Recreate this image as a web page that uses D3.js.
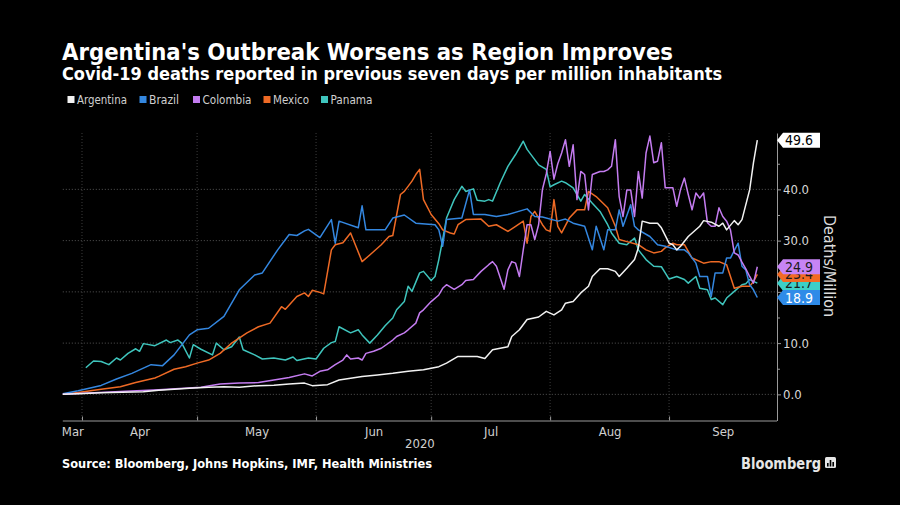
<!DOCTYPE html>
<html><head><meta charset="utf-8">
<script src="https://cdn.jsdelivr.net/npm/d3@7"></script>
<style>
html,body{margin:0;padding:0;background:#000;}
svg{display:block;}
</style></head>
<body><svg id="c" width="900" height="505"></svg>
<script>
// ---------------- DATA ----------------
const countries = ["Argentina", "Brazil", "Colombia", "Mexico", "Panama"];
const colors = ["#f2f2f2", "#3487e0", "#c47cf0", "#ee6a25", "#3fc5bd"];
const tagColors = ["#ffffff", "#2f8be8", "#c784f5", "#f26a24", "#3ccfc8"];
const tagText = ["#000000", "#ffffff", "#1a1a1a", "#1a1a1a", "#1a1a1a"];

const argentina = [["2020-03-27",0],["2020-03-31",0.1],["2020-04-06",0.3],["2020-04-17",0.5],["2020-04-21",0.8],["2020-04-29",1.2],["2020-05-04",1.4],["2020-05-08",1.5],["2020-05-12",1.4],["2020-05-17",1.7],["2020-05-21",1.8],["2020-05-25",2.0],["2020-05-29",2.2],["2020-05-31",1.7],["2020-06-04",1.9],["2020-06-07",2.8],["2020-06-13",3.5],["2020-06-17",3.8],["2020-06-21",4.1],["2020-06-25",4.5],["2020-06-29",4.8],["2020-07-01",5.1],["2020-07-03",5.4],["2020-07-05",6.1],["2020-07-08",7.4],["2020-07-10",7.4],["2020-07-13",7.4],["2020-07-15",7.0],["2020-07-17",8.7],["2020-07-19",9.0],["2020-07-21",9.3],["2020-07-22",11.3],["2020-07-24",12.6],["2020-07-26",14.6],["2020-07-29",15.1],["2020-07-31",16.2],["2020-08-02",15.5],["2020-08-04",16.5],["2020-08-05",17.8],["2020-08-07",18.1],["2020-08-09",19.8],["2020-08-11",21.1],["2020-08-12",23.0],["2020-08-14",24.5],["2020-08-16",24.5],["2020-08-18",24.0],["2020-08-19",23.0],["2020-08-21",24.6],["2020-08-23",26.3],["2020-08-24",28.6],["2020-08-25",33.8],["2020-08-27",33.4],["2020-08-29",33.4],["2020-08-30",32.5],["2020-09-01",29.5],["2020-09-02",29.2],["2020-09-03",28.2],["2020-09-04",28.9],["2020-09-06",30.8],["2020-09-09",32.8],["2020-09-10",33.9],["2020-09-12",33.6],["2020-09-14",32.8],["2020-09-15",33.4],["2020-09-16",32.1],["2020-09-18",33.9],["2020-09-19",33.1],["2020-09-20",34.1],["2020-09-22",39.9],["2020-09-23",45.2],["2020-09-24",49.6]];

const brazil = [["2020-03-27",0.1],["2020-03-31",0.7],["2020-04-06",1.75],["2020-04-10",3.0],["2020-04-14",4.1],["2020-04-19",5.8],["2020-04-22",5.6],["2020-04-25",7.7],["2020-04-29",11.6],["2020-05-01",12.6],["2020-05-04",12.9],["2020-05-08",15.2],["2020-05-12",20.4],["2020-05-16",23.3],["2020-05-18",23.7],["2020-05-22",28.2],["2020-05-25",31.2],["2020-05-27",31.0],["2020-05-29",31.9],["2020-05-30",32.2],["2020-06-02",30.6],["2020-06-05",34.1],["2020-06-06",29.5],["2020-06-07",33.8],["2020-06-12",32.5],["2020-06-13",36.8],["2020-06-14",32.1],["2020-06-19",32.1],["2020-06-21",34.4],["2020-06-24",35.0],["2020-06-27",33.4],["2020-07-02",33.1],["2020-07-03",32.1],["2020-07-04",28.9],["2020-07-05",34.1],["2020-07-09",34.4],["2020-07-11",39.9],["2020-07-12",35.1],["2020-07-15",35.1],["2020-07-18",34.7],["2020-07-21",35.1],["2020-07-26",36.2],["2020-07-28",34.7],["2020-07-30",34.6],["2020-08-03",33.8],["2020-08-05",34.2],["2020-08-07",33.4],["2020-08-10",32.8],["2020-08-12",28.2],["2020-08-13",32.8],["2020-08-15",28.2],["2020-08-16",32.1],["2020-08-18",32.1],["2020-08-19",36.0],["2020-08-20",32.8],["2020-08-22",37.0],["2020-08-23",32.8],["2020-08-24",32.1],["2020-08-27",30.8],["2020-08-29",29.2],["2020-08-31",28.9],["2020-09-03",28.2],["2020-09-05",28.2],["2020-09-06",27.6],["2020-09-08",25.6],["2020-09-09",23.0],["2020-09-11",23.0],["2020-09-12",19.1],["2020-09-13",23.7],["2020-09-15",23.7],["2020-09-16",26.6],["2020-09-17",26.6],["2020-09-19",29.5],["2020-09-20",25.0],["2020-09-21",24.3],["2020-09-22",21.4],["2020-09-23",20.4],["2020-09-24",18.9]];

const colombia = [["2020-03-27",0],["2020-04-11",0.55],["2020-04-21",0.9],["2020-05-02",1.4],["2020-05-07",2.0],["2020-05-12",2.2],["2020-05-17",2.3],["2020-05-21",2.8],["2020-05-25",3.3],["2020-05-29",4.0],["2020-05-31",3.6],["2020-06-02",4.5],["2020-06-04",4.8],["2020-06-06",5.8],["2020-06-08",6.7],["2020-06-09",7.7],["2020-06-10",6.9],["2020-06-12",7.1],["2020-06-13",6.7],["2020-06-14",8.0],["2020-06-16",8.4],["2020-06-18",9.0],["2020-06-21",10.6],["2020-06-22",11.3],["2020-06-24",12.0],["2020-06-25",12.6],["2020-06-27",13.9],["2020-06-28",15.9],["2020-06-29",16.5],["2020-07-01",18.1],["2020-07-03",19.4],["2020-07-04",20.7],["2020-07-05",21.4],["2020-07-07",20.5],["2020-07-09",21.4],["2020-07-10",22.2],["2020-07-12",22.4],["2020-07-14",24.0],["2020-07-16",25.3],["2020-07-17",25.9],["2020-07-18",25.0],["2020-07-20",20.5],["2020-07-21",24.3],["2020-07-22",25.9],["2020-07-23",25.6],["2020-07-24",23.0],["2020-07-25",28.2],["2020-07-26",33.1],["2020-07-27",33.1],["2020-07-28",30.2],["2020-07-29",33.1],["2020-07-30",40.0],["2020-07-31",43.0],["2020-08-01",47.4],["2020-08-02",42.0],["2020-08-03",45.0],["2020-08-04",47.1],["2020-08-05",49.7],["2020-08-06",44.5],["2020-08-07",48.7],["2020-08-08",38.0],["2020-08-09",43.5],["2020-08-10",42.9],["2020-08-11",36.0],["2020-08-12",42.9],["2020-08-13",43.2],["2020-08-14",43.5],["2020-08-15",43.5],["2020-08-16",43.8],["2020-08-17",44.5],["2020-08-18",49.7],["2020-08-19",38.6],["2020-08-20",34.7],["2020-08-21",39.9],["2020-08-22",39.9],["2020-08-23",34.7],["2020-08-24",43.5],["2020-08-25",38.3],["2020-08-26",47.1],["2020-08-27",50.4],["2020-08-28",45.2],["2020-08-29",45.5],["2020-08-30",49.1],["2020-08-31",40.3],["2020-09-01",40.3],["2020-09-02",40.3],["2020-09-03",36.7],["2020-09-04",40.0],["2020-09-05",42.2],["2020-09-06",39.0],["2020-09-07",36.0],["2020-09-08",39.3],["2020-09-09",38.3],["2020-09-10",39.3],["2020-09-11",33.5],["2020-09-12",32.8],["2020-09-13",32.8],["2020-09-14",36.4],["2020-09-15",34.7],["2020-09-16",33.8],["2020-09-17",32.1],["2020-09-18",27.6],["2020-09-19",27.2],["2020-09-20",25.8],["2020-09-21",24.5],["2020-09-22",23.0],["2020-09-23",21.7],["2020-09-24",24.9]];

const mexico = [["2020-03-27",0],["2020-03-31",0.35],["2020-04-06",1.0],["2020-04-11",1.5],["2020-04-15",2.3],["2020-04-20",3.2],["2020-04-21",3.5],["2020-04-25",4.9],["2020-04-28",5.4],["2020-05-01",6.1],["2020-05-04",6.7],["2020-05-07",8.0],["2020-05-10",10.0],["2020-05-14",12.0],["2020-05-17",13.2],["2020-05-20",13.9],["2020-05-23",17.1],["2020-05-24",16.6],["2020-05-27",19.1],["2020-05-29",19.8],["2020-05-30",19.1],["2020-05-31",20.3],["2020-06-02",19.9],["2020-06-03",19.6],["2020-06-05",28.2],["2020-06-06",29.2],["2020-06-08",29.6],["2020-06-10",31.5],["2020-06-13",25.9],["2020-06-15",27.2],["2020-06-18",29.2],["2020-06-20",30.8],["2020-06-21",31.0],["2020-06-23",39.0],["2020-06-24",39.6],["2020-06-26",41.6],["2020-06-27",42.9],["2020-06-28",43.9],["2020-06-29",38.0],["2020-07-01",35.1],["2020-07-03",33.3],["2020-07-04",32.1],["2020-07-06",31.5],["2020-07-07",31.3],["2020-07-08",33.1],["2020-07-10",34.1],["2020-07-14",34.2],["2020-07-16",32.8],["2020-07-18",33.1],["2020-07-21",31.8],["2020-07-23",32.8],["2020-07-25",33.8],["2020-07-26",29.5],["2020-07-27",34.7],["2020-07-28",35.7],["2020-07-30",33.1],["2020-07-31",32.1],["2020-08-01",31.8],["2020-08-02",38.0],["2020-08-03",32.8],["2020-08-04",31.5],["2020-08-06",34.4],["2020-08-08",36.0],["2020-08-10",36.0],["2020-08-11",39.6],["2020-08-13",38.6],["2020-08-16",36.4],["2020-08-18",32.8],["2020-08-19",30.2],["2020-08-21",29.8],["2020-08-24",29.2],["2020-08-26",28.2],["2020-08-28",27.6],["2020-08-30",27.9],["2020-08-31",28.6],["2020-09-02",29.5],["2020-09-03",29.2],["2020-09-05",29.2],["2020-09-07",26.6],["2020-09-10",25.6],["2020-09-12",25.9],["2020-09-14",25.9],["2020-09-16",25.3],["2020-09-18",20.7],["2020-09-20",21.1],["2020-09-22",21.1],["2020-09-23",22.0],["2020-09-24",23.4]];

const panama = [["2020-04-02",5.2],["2020-04-04",6.5],["2020-04-06",6.4],["2020-04-08",5.8],["2020-04-10",7.1],["2020-04-11",6.7],["2020-04-13",8.0],["2020-04-15",8.9],["2020-04-16",8.4],["2020-04-17",9.9],["2020-04-20",9.5],["2020-04-23",10.6],["2020-04-24",10.1],["2020-04-26",10.6],["2020-04-27",10.0],["2020-04-29",7.1],["2020-04-30",9.7],["2020-05-02",8.8],["2020-05-05",7.7],["2020-05-06",10.0],["2020-05-08",8.7],["2020-05-10",9.3],["2020-05-12",11.2],["2020-05-13",8.7],["2020-05-16",7.7],["2020-05-18",6.9],["2020-05-21",7.1],["2020-05-24",6.7],["2020-05-26",7.3],["2020-05-27",6.6],["2020-05-30",7.1],["2020-06-01",6.9],["2020-06-03",9.0],["2020-06-05",10.1],["2020-06-06",10.3],["2020-06-07",13.2],["2020-06-10",12.0],["2020-06-12",12.6],["2020-06-13",11.6],["2020-06-15",10.0],["2020-06-17",11.6],["2020-06-19",13.4],["2020-06-21",14.9],["2020-06-22",16.5],["2020-06-24",18.1],["2020-06-25",21.1],["2020-06-26",20.1],["2020-06-28",23.7],["2020-06-29",24.0],["2020-07-01",22.2],["2020-07-02",23.0],["2020-07-03",26.3],["2020-07-04",30.2],["2020-07-05",34.4],["2020-07-07",38.0],["2020-07-09",40.6],["2020-07-10",39.6],["2020-07-12",40.1],["2020-07-13",37.9],["2020-07-15",37.7],["2020-07-16",38.0],["2020-07-17",37.7],["2020-07-19",41.3],["2020-07-21",44.5],["2020-07-23",46.8],["2020-07-25",49.4],["2020-07-26",47.8],["2020-07-28",45.8],["2020-07-29",44.8],["2020-07-31",43.9],["2020-08-01",40.5],["2020-08-02",40.9],["2020-08-04",41.6],["2020-08-05",41.3],["2020-08-07",40.3],["2020-08-09",37.7],["2020-08-10",39.0],["2020-08-12",37.3],["2020-08-14",35.7],["2020-08-16",33.1],["2020-08-17",31.5],["2020-08-19",29.5],["2020-08-21",29.2],["2020-08-23",30.5],["2020-08-24",28.2],["2020-08-26",26.3],["2020-08-28",25.0],["2020-08-30",24.9],["2020-08-31",23.7],["2020-09-01",22.5],["2020-09-03",23.0],["2020-09-05",22.4],["2020-09-06",21.7],["2020-09-08",23.0],["2020-09-09",20.7],["2020-09-11",20.4],["2020-09-12",18.5],["2020-09-13",18.8],["2020-09-15",17.5],["2020-09-16",18.8],["2020-09-18",20.1],["2020-09-20",21.4],["2020-09-21",21.6],["2020-09-22",22.4],["2020-09-24",21.7]];

const seriesValues = [argentina, brazil, colombia, mexico, panama];
const yTickValues = [0, 10, 20, 30, 40];
const yMinorTicks = [5, 15, 25, 35, 45];
const monthStarts = ["2020-04-01","2020-05-01","2020-06-01","2020-07-01","2020-08-01","2020-09-01"];
const monthNames = ["Mar","Apr","May","Jun","Jul","Aug","Sep"];
const yearLabel = "2020";
const titleText = "Argentina's Outbreak Worsens as Region Improves";
const subtitleText = "Covid-19 deaths reported in previous seven days per million inhabitants";
const sourceText = "Source: Bloomberg, Johns Hopkins, IMF, Health Ministries";
const yAxisTitle = "Deaths/Million";

// ---------------- CHART ----------------
const W = 900, H = 505;
const svg = d3.select("#c");
svg.append("rect").attr("width", W).attr("height", H).attr("fill", "#000");
const parse = d3.timeParse("%Y-%m-%d");
const FONT = "'DejaVu Sans Condensed','DejaVu Sans',sans-serif";

const xLeft = 62.8, xRight = 776.5, yTop = 133, yBottom = 420.5;
const x = d3.scaleTime().domain([parse("2020-03-27"), parse("2020-09-29")]).range([xLeft, xRight]);
const y = d3.scaleLinear().domain([-5.1, 51]).range([yBottom, yTop]);

function fit(sel, w) {
  const L = sel.node().getComputedTextLength();
  if (Math.abs(L - w) > 1) sel.attr("textLength", w).attr("lengthAdjust", "spacingAndGlyphs");
  return sel;
}

// Titles
fit(svg.append("text").attr("x", 62).attr("y", 59.5).text(titleText)
  .attr("font-family", FONT).attr("font-weight", "bold").attr("font-size", 23.5).attr("fill", "#fff"), 611);
fit(svg.append("text").attr("x", 62).attr("y", 79.5).text(subtitleText)
  .attr("font-family", FONT).attr("font-weight", "bold").attr("font-size", 17).attr("fill", "#fff"), 660);

// Legend
const legendX = [67.5, 139.5, 193, 263.5, 321];
const legendW = [50, 31, 49, 36, 42];
countries.forEach((c, i) => {
  svg.append("rect").attr("x", legendX[i]).attr("y", 96).attr("width", 7).attr("height", 7).attr("fill", colors[i]);
  fit(svg.append("text").attr("x", legendX[i] + 9.5).attr("y", 104).text(c)
    .attr("font-family", FONT).attr("font-size", 12).attr("fill", "#cfcfcf"), legendW[i]);
});

// Gridlines
const grid = svg.append("g");
grid.selectAll("line.h").data(yTickValues).join("line")
  .attr("x1", xLeft).attr("x2", 777).attr("y1", d => y(d)).attr("y2", d => y(d))
  .attr("stroke", "#555").attr("stroke-width", 1).attr("stroke-dasharray", "1,2");
grid.selectAll("line.v").data(monthStarts.map(parse)).join("line")
  .attr("x1", d => x(d)).attr("x2", d => x(d)).attr("y1", yTop).attr("y2", yBottom)
  .attr("stroke", "#3c3c3c").attr("stroke-width", 1).attr("stroke-dasharray", "1,2");

// Lines
const line = d3.line().x(d => x(parse(d[0]))).y(d => y(d[1]));
const drawOrder = [4, 3, 1, 2, 0];
drawOrder.forEach(i => {
  svg.append("path").datum(seriesValues[i]).attr("d", line)
    .attr("fill", "none").attr("stroke", colors[i]).attr("stroke-width", 1.5)
    .attr("stroke-linejoin", "round");
});

// X axis
const xAxisG = svg.append("g").attr("transform", `translate(0,${yBottom})`)
  .call(d3.axisBottom(x).tickValues(monthStarts.map(parse)).tickFormat("").tickSize(4).tickSizeOuter(0));
xAxisG.select(".domain").attr("stroke", "#9a9a9a").attr("d", `M${xLeft},0.5H777`);
xAxisG.selectAll(".tick line").attr("stroke", "#9a9a9a").attr("y1", -4).attr("y2", 0);

const dom = x.domain();
const mids = monthNames.map((m, i) => {
  const s = new Date(2020, 2 + i, 1), e = new Date(2020, 3 + i, 1);
  const a = Math.max(s, dom[0]), b = Math.min(e, dom[1]);
  return new Date((a + b) / 2);
});
const labAxis = svg.append("g").attr("transform", `translate(0,${yBottom})`)
  .call(d3.axisBottom(x).tickValues(mids).tickFormat((d, i) => monthNames[i]).tickSize(0).tickPadding(6));
labAxis.select(".domain").remove();
labAxis.selectAll("text").attr("font-family", FONT).attr("font-size", 13).attr("fill", "#d0d0d0");

svg.append("text").attr("x", (xLeft + 777) / 2).attr("y", 448).attr("text-anchor", "middle").text(yearLabel)
  .attr("font-family", FONT).attr("font-size", 13).attr("fill", "#d0d0d0");

// Y axis (right)
const yAxisG = svg.append("g").attr("transform", "translate(777,0)")
  .call(d3.axisRight(y).tickValues(yTickValues).tickFormat(d3.format(".1f")).tickSize(4).tickPadding(2).tickSizeOuter(0));
yAxisG.select(".domain").attr("stroke", "#9a9a9a");
yAxisG.selectAll(".tick line").attr("stroke", "#9a9a9a");
yAxisG.selectAll("text").attr("font-family", FONT).attr("font-size", 13).attr("fill", "#d8d8d8");
const yMinorG = svg.append("g").attr("transform", "translate(777,0)")
  .call(d3.axisRight(y).tickValues(yMinorTicks).tickFormat("").tickSize(3).tickSizeOuter(0));
yMinorG.select(".domain").remove();
yMinorG.selectAll(".tick line").attr("stroke", "#9a9a9a");

svg.append("text").attr("transform", "translate(829,266) rotate(90)").attr("text-anchor", "middle")
  .attr("dominant-baseline", "central").text(yAxisTitle)
  .attr("font-family", FONT).attr("font-size", 16).attr("fill", "#dcdcdc");

// Value tags
const tagOrder = [4, 3, 2, 1, 0];
tagOrder.forEach(i => {
  const last = seriesValues[i][seriesValues[i].length - 1];
  const yc = y(last[1]);
  const g = svg.append("g");
  g.append("path").attr("d", `M777,${yc}L783,${yc - 7.5}H820V${yc + 7.5}H783Z`).attr("fill", tagColors[i]);
  g.append("text").attr("x", 785).attr("y", yc).attr("dominant-baseline", "central").text(last[1].toFixed(1))
    .attr("font-family", FONT).attr("font-size", 14).attr("fill", tagText[i]);
});

// Source & brand
fit(svg.append("text").attr("x", 62).attr("y", 468).text(sourceText)
  .attr("font-family", FONT).attr("font-weight", "bold").attr("font-size", 12.5).attr("fill", "#fff"), 370);
fit(svg.append("text").attr("x", 741).attr("y", 469).text("Bloomberg")
  .attr("font-family", FONT).attr("font-weight", "bold").attr("font-size", 15).attr("fill", "#e6e6e6"), 80);
const logo = svg.append("g").attr("transform", "translate(825,457)");
logo.append("rect").attr("width", 11).attr("height", 11).attr("rx", 1.5).attr("fill", "#e6e6e6");
[[2, 6, 1.6, 3.5], [4.7, 3, 1.6, 6.5], [7.4, 5, 1.6, 4.5]].forEach(b =>
  logo.append("rect").attr("x", b[0]).attr("y", b[1]).attr("width", b[2]).attr("height", b[3]).attr("fill", "#000"));
</script>
</body></html>
